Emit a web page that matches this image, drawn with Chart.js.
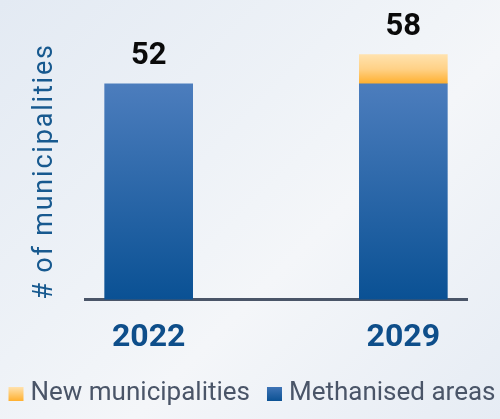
<!DOCTYPE html>
<html>
<head>
<meta charset="utf-8">
<script src="https://cdn.jsdelivr.net/npm/chart.js@4"></script>
<style>
  html, body { margin: 0; padding: 0; }
  body {
    width: 500px; height: 419px; overflow: hidden;
    background: linear-gradient(135deg, #e3eaf3 0%, #eef2f7 40%, #f4f6f9 60%, #e6ecf4 100%);
  }
  #wrap { width: 500px; height: 419px; }
</style>
</head>
<body>
<div id="wrap"><canvas id="c" width="500" height="419"></canvas></div>
<script>
const years = ['2022', '2029'];
const methanised = [52, 52];
const newMunicipalities = [0, 7];
const totals = [52, 58];
const yAxisTitle = '# of municipalities';
const seriesNames = ['Methanised areas', 'New municipalities'];

Chart.defaults.font.family = 'Roboto';

function blueGrad(ctx) {
  const chart = ctx.chart;
  const y = chart.scales.y;
  if (!chart.chartArea || !y) return '#2a66a8';
  const i = ctx.dataIndex;
  const top = y.getPixelForValue(methanised[i]);
  const bot = y.getPixelForValue(0);
  const g = chart.ctx.createLinearGradient(0, top, 0, bot);
  g.addColorStop(0, '#4c7dbd');
  g.addColorStop(1, '#0a5194');
  return g;
}
function orangeGrad(ctx) {
  const chart = ctx.chart;
  const y = chart.scales.y;
  if (!chart.chartArea || !y) return '#ffc860';
  const i = ctx.dataIndex;
  const top = y.getPixelForValue(methanised[i] + newMunicipalities[i]);
  const bot = y.getPixelForValue(methanised[i]);
  const g = chart.ctx.createLinearGradient(0, top, 0, bot);
  g.addColorStop(0, '#ffe2ae');
  g.addColorStop(0.5, '#ffd186');
  g.addColorStop(1, '#ffaf2e');
  return g;
}

const valueLabels = {
  id: 'valueLabels',
  afterDatasetsDraw(chart) {
    const ctx = chart.ctx;
    ctx.save();
    ctx.font = 'bold 31px Roboto';
    ctx.fillStyle = '#0a0a0a';
    ctx.textAlign = 'center';
    ctx.textBaseline = 'alphabetic';
    years.forEach((_, i) => {
      let top = Infinity, x = 0;
      chart.data.datasets.forEach((ds, d) => {
        const el = chart.getDatasetMeta(d).data[i];
        if (el && ds.data[i].y) { top = Math.min(top, el.y); x = el.x; }
      });
      ctx.fillText(String(totals[i]), x, top - 20);
    });
    ctx.restore();
  }
};

// Legend drawn below the axis (reversed order: new municipalities first)
const bottomLegend = {
  id: 'bottomLegend',
  afterDraw(chart) {
    const ctx = chart.ctx;
    ctx.save();
    ctx.font = '26px Roboto';
    ctx.textBaseline = 'middle';
    ctx.textAlign = 'left';
    const items = chart.data.datasets.map((ds, d) => ({ text: ds.label, d })).reverse();
    const box = 15, boxH = 14, gapText = 7, gapItem = 17;
    const widths = items.map(it => ctx.measureText(it.text).width);
    const total = widths.reduce((s, w) => s + w, 0) + items.length * (box + gapText) + gapItem * (items.length - 1);
    let x = (chart.width - total) / 2 + 2;
    const yMid = 393;
    items.forEach((it, k) => {
      const t = yMid - 6;
      const g = ctx.createLinearGradient(0, t, 0, t + boxH);
      if (it.d === 1) { g.addColorStop(0, '#ffe2ae'); g.addColorStop(1, '#ffb02f'); }
      else { g.addColorStop(0, '#3f74b6'); g.addColorStop(1, '#0c5294'); }
      ctx.fillStyle = g;
      ctx.fillRect(x, t, box, boxH);
      ctx.fillStyle = '#4a5568';
      ctx.fillText(it.text, x + box + gapText, yMid);
      x += box + gapText + widths[k] + gapItem;
    });
    ctx.restore();
  }
};

new Chart(document.getElementById('c'), {
  type: 'bar',
  data: {
    datasets: [
      {
        label: seriesNames[0],
        data: years.map((_, i) => ({ x: i, y: methanised[i] })),
        backgroundColor: blueGrad,
        borderWidth: 0,
        barThickness: 88
      },
      {
        label: seriesNames[1],
        data: years.map((_, i) => ({ x: i, y: newMunicipalities[i] })),
        backgroundColor: orangeGrad,
        borderWidth: 0,
        barThickness: 88
      }
    ]
  },
  options: {
    responsive: false,
    animation: false,
    layout: { padding: { top: 9, left: 10, right: 33, bottom: 43 } },
    scales: {
      x: {
        type: 'linear',
        stacked: true,
        offset: false,
        min: -0.25,
        max: 1.25,
        afterBuildTicks(scale) { scale.ticks = years.map((_, i) => ({ value: i })); },
        grid: { display: false, drawTicks: false, offset: false },
        border: { display: true, color: '#4a5568', width: 3 },
        ticks: {
          padding: 19,
          color: '#0e4e8a',
          font: { size: 32, weight: 'bold' },
          callback: (v) => years[v] ?? ''
        }
      },
      y: {
        stacked: true,
        min: 0,
        max: 70,
        grid: { display: false, drawTicks: false },
        border: { display: false },
        ticks: { display: false },
        title: {
          display: true,
          text: yAxisTitle,
          align: 'start',
          color: '#17598f',
          font: { size: 27 },
          padding: { top: 18.8, bottom: 23.8 }
        },
        afterUpdate(scale) {
          if (scale._lsWrapped) return;
          const orig = scale.drawTitle.bind(scale);
          scale.drawTitle = function () {
            const c = this.ctx;
            const prev = c.letterSpacing;
            c.letterSpacing = '1.8px';
            orig();
            c.letterSpacing = prev;
          };
          scale._lsWrapped = true;
        }
      }
    },
    plugins: {
      tooltip: { enabled: false },
      legend: { display: false }
    }
  },
  plugins: [valueLabels, bottomLegend]
});
</script>
</body>
</html>
